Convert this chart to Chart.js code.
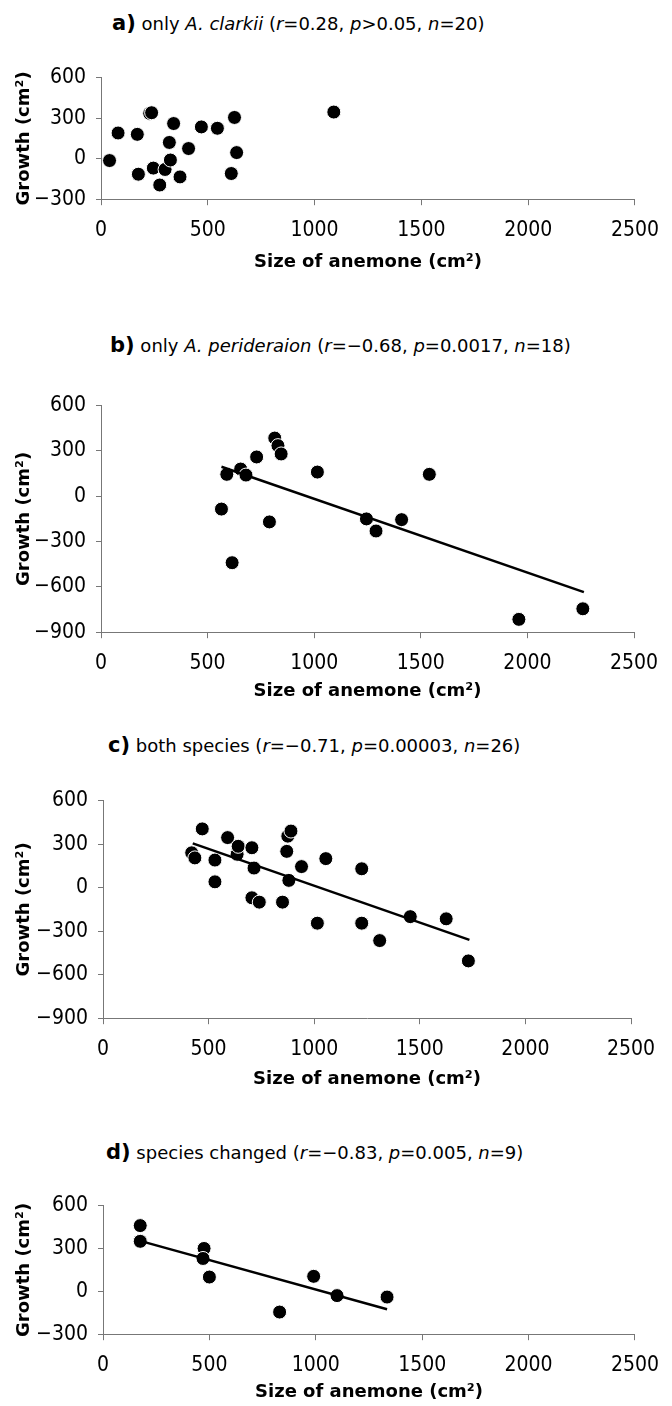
<!DOCTYPE html>
<html lang="en">
<head>
<meta charset="UTF-8">
<title>Anemone size and growth</title>
<script src="https://cdn.jsdelivr.net/npm/chart.js"></script>
<style>
    body { margin: 0; background: #fff; }
    #page { position: relative; width: 672px; height: 1406px; overflow: hidden; }
    canvas { position: absolute; left: 0; }
    .ttl {
        position: absolute;
        font-family: "DejaVu Sans", sans-serif;
        font-size: 18px;
        line-height: 22px;
        white-space: nowrap;
        color: #000;
    }
    .ttl b { font-size: 21px; }
</style>
</head>
<body>
<div id="page">
    <div class="ttl" style="left:112px; top:12px"><b>a)</b> only <i>A. clarkii</i> (<i>r</i>=0.28, <i>p</i>&gt;0.05, <i>n</i>=20)</div>
    <canvas id="chartA"></canvas>

    <div class="ttl" style="left:110px; top:334px"><b>b)</b> only <i>A. perideraion</i> (<i>r</i>=−0.68, <i>p</i>=0.0017, <i>n</i>=18)</div>
    <canvas id="chartB"></canvas>

    <div class="ttl" style="left:108px; top:734px"><b>c)</b> both species (<i>r</i>=−0.71, <i>p</i>=0.00003, <i>n</i>=26)</div>
    <canvas id="chartC"></canvas>

    <div class="ttl" style="left:106px; top:1141px"><b>d)</b> species changed (<i>r</i>=−0.83, <i>p</i>=0.005, <i>n</i>=9)</div>
    <canvas id="chartD"></canvas>
</div>

<script>
    // x ticks shared by all panels
    const sizeTicks = [0, 500, 1000, 1500, 2000, 2500];

    // a) only A. clarkii
    const clarkiiSize   = [40, 80, 170, 175, 228, 237, 245, 275, 300, 320, 325, 340, 370, 410, 470, 545, 610, 625, 635, 1090];
    const clarkiiGrowth = [-14, 190, 180, -115, 335, 340, -70, -195, -80, 120, -10, 260, -135, 75, 235, 225, -110, 305, 45, 345];

    // b) only A. perideraion
    const perideraionSize   = [565, 590, 615, 655, 680, 730, 790, 815, 830, 845, 1015, 1245, 1290, 1410, 1540, 1960, 2260];
    const perideraionGrowth = [-85, 145, -440, 180, 140, 260, -170, 385, 335, 280, 160, -150, -230, -155, 145, -815, -745];
    const perideraionFitSize   = [565, 2265];
    const perideraionFitGrowth = [195, -635];

    // c) both species
    const bothSize   = [420, 435, 470, 530, 530, 590, 635, 640, 705, 705, 715, 740, 850, 870, 875, 890, 880, 940, 1015, 1055, 1225, 1225, 1310, 1455, 1625, 1730];
    const bothGrowth = [240, 205, 405, 40, 190, 345, 230, 285, 275, -70, 135, -100, -100, 250, 355, 390, 50, 145, -245, 200, 130, -245, -365, -200, -215, -505];
    const bothFitSize   = [425, 1735];
    const bothFitGrowth = [305, -360];

    // d) species changed
    const changedSize   = [175, 175, 475, 470, 500, 830, 990, 1100, 1335];
    const changedGrowth = [460, 350, 300, 230, 100, -145, 105, -30, -40];
    const changedFitSize   = [170, 1335];
    const changedFitGrowth = [355, -125];

    const toPoints = (xs, ys) => xs.map((x, i) => ({ x: x, y: ys[i] }));
    const plain = v => v < 0 ? '−' + Math.abs(v) : String(v);

    const axisColor = '#777';
    const tickFont = { family: '"Liberation Sans Narrow", "DejaVu Sans Condensed", sans-serif', size: 21 };
    const titleFont = { family: '"DejaVu Sans", sans-serif', size: 18, weight: 'bold' };

    function makePanel(id, box, xs, ys, fitX, fitY, yMin) {
        const padTop = 12;
        const plotH = box.bottom - box.top;
        const xAxisH = box.xTitle + 10.8 + 4;
        const canvas = document.getElementById(id);
        canvas.width = 672;
        canvas.height = padTop + plotH + xAxisH;
        canvas.style.top = (box.top - padTop) + 'px';

        const datasets = [];
        if (fitX) {
            datasets.push({
                type: 'line',
                data: toPoints(fitX, fitY),
                borderColor: '#000',
                borderWidth: 2.5,
                pointRadius: 0,
                fill: false,
                order: 0
            });
        }
        datasets.push({
            data: toPoints(xs, ys),
            pointRadius: 7,
            pointBackgroundColor: '#000',
            pointBorderColor: '#fff',
            pointBorderWidth: 1,
            order: 1
        });

        new Chart(canvas, {
            type: 'scatter',
            data: { datasets: datasets },
            options: {
                responsive: false,
                animation: false,
                layout: { padding: { top: padTop, right: 672 - box.right, left: 0, bottom: 0 } },
                plugins: { legend: { display: false }, tooltip: { enabled: false } },
                scales: {
                    x: {
                        type: 'linear',
                        min: 0,
                        max: 2500,
                        afterBuildTicks: s => { s.ticks = sizeTicks.map(v => ({ value: v })); },
                        afterFit: s => { s.height = xAxisH; },
                        ticks: { font: tickFont, color: '#000', padding: 13, maxRotation: 0, callback: plain },
                        grid: { drawOnChartArea: false, drawTicks: true, tickLength: 6, color: axisColor },
                        border: { display: true, color: axisColor, width: 1 },
                        title: { display: true, text: 'Size of anemone (cm²)', font: titleFont, color: '#000', padding: { top: 0, bottom: 4 } }
                    },
                    y: {
                        type: 'linear',
                        min: yMin,
                        max: 600,
                        ticks: { stepSize: 300, font: tickFont, color: '#000', padding: 10, callback: plain },
                        afterFit: s => { s.width = box.left; },
                        grid: { drawOnChartArea: false, drawTicks: true, tickLength: 5, color: axisColor },
                        border: { display: true, color: axisColor, width: 1 },
                        title: { display: true, text: 'Growth (cm²)', font: titleFont, color: '#000', padding: { top: 14, bottom: 0 } }
                    }
                }
            }
        });
    }

    makePanel('chartA', { top: 67, bottom: 200, left: 101, right: 639, xTitle: 63 }, clarkiiSize, clarkiiGrowth, null, null, -300);
    makePanel('chartB', { top: 395, bottom: 633, left: 101, right: 634, xTitle: 59 }, perideraionSize, perideraionGrowth, perideraionFitSize, perideraionFitGrowth, -900);
    makePanel('chartC', { top: 790, bottom: 1019, left: 103, right: 631, xTitle: 61 }, bothSize, bothGrowth, bothFitSize, bothFitGrowth, -900);
    makePanel('chartD', { top: 1195, bottom: 1335, left: 103, right: 637, xTitle: 58 }, changedSize, changedGrowth, changedFitSize, changedFitGrowth, -300);
</script>
</body>
</html>
